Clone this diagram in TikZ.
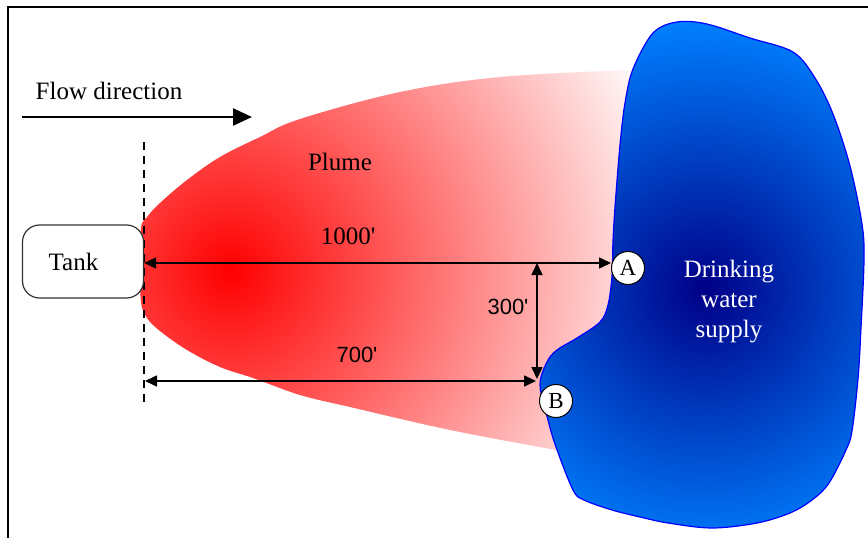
\documentclass[tikz,border=0pt]{standalone}
\usepackage{fontspec}
\setmainfont{Liberation Serif}
\newfontfamily\dimfont{Liberation Sans}
\usetikzlibrary{arrows.meta}

% outline of the water supply
\newcommand{\lakeoutline}{plot[smooth cycle, tension=0.55] coordinates {
  (653,33) (677,22) (707,24) (750,38) (793,52) (815,78) (833,114) (850,166)
  (862,224) (864,260) (861,328) (858,379) (852,431) (846,450) (829,483)
  (812,500) (790,513) (757,523) (712,528) (668,523) (640,517) (612,510)
  (584,500) (573,490) (556,447) (548,420) (540,385) (547,362) (557,350)
  (577,338) (600,322) (608,305) (612,276) (613,241) (615,207) (620,145)
  (625,103) (633,69)}}

\begin{document}
\begin{tikzpicture}[x=1pt, y=-1pt,
  txt/.style={font=\fontsize{25}{30}\selectfont, inner sep=0pt},
  dimtxt/.style={font=\dimfont\fontsize{22}{26}\selectfont, inner sep=0pt},
  dimline/.style={line width=1.6pt, {Triangle[length=12pt,width=11pt]}-{Triangle[length=12pt,width=11pt]}},
  tankbox/.style={draw=black!80, line width=1.2pt, rounded corners=17pt,
    minimum width=121pt, minimum height=73pt, fill=white, txt},
  pointmark/.style={circle, draw, line width=1pt, fill=white, minimum size=33pt,
    inner sep=0pt, font=\fontsize{23}{26}\selectfont}]

\useasboundingbox (0,0) rectangle (868,538);

%\draw[help lines, step=50] (0,0) grid (868,538);

% frame
\draw[line width=2.5pt] (868,7) -- (8,7) -- (8,538);

% plume, red at the source fading out downstream
\begin{scope}
  \clip plot[smooth, tension=0.6] coordinates {(556,450) (450,430) (350,407)
          (300,395) (253,378) (220,367) (187,350) (160,331) (147,318)
          (141,302) (140,265) (141,228) (147,217) (160,203) (187,180)
          (220,157) (260,137) (300,119) (400,92) (500,77) (630,70)}
        -- (650,70) -- (650,452) -- cycle;
  \shade[inner color=red, outer color=white] (230,270) circle[radius=460pt];
\end{scope}

% drinking water supply
\begin{scope}
  \clip \lakeoutline;
  \shade[inner color={rgb,255:red,0;green,0;blue,135},
         outer color={rgb,255:red,0;green,128;blue,255}] (705,290) circle[radius=270pt];
\end{scope}
\draw[blue, line width=1.2pt] \lakeoutline;

% flow direction
\node[txt] (flow) at (109,91) {Flow direction};
\coordinate (fs) at (22,117);
\coordinate (fe) at (252,117);
\draw[line width=2.5pt, -{Triangle[length=19pt,width=17pt]}] (fs) -- (fe);

% source line
\coordinate (dtop) at (144,142);
\coordinate (dbot) at (144,405);
\draw[line width=1.5pt, dash pattern=on 8pt off 6pt] (dtop) -- (dbot);

\node[tankbox] (tank) at (83,261.5) {Tank\kern19pt};

\node[pointmark] (A) at (628,268) {A};
\node[pointmark] (B) at (556,401) {B};

% distances
\coordinate (a1) at (tank.east |- 0,263);
\coordinate (a2) at (A.west |- 0,263);
\draw[dimline] (a1) -- (a2);
\node[txt] (l1000) at (348,236) {1000\textquotesingle};

\coordinate (b1) at (145,381);
\coordinate (b2) at (536,381);
\draw[dimline] (b1) -- (b2);
\node[dimtxt] (l700) at (357,355) {700\textquotesingle};

\coordinate (c1) at (537,263);
\coordinate (c2) at (537,379);
\draw[dimline] (c1) -- (c2);
\node[dimtxt] (l300) at (508,307) {300\textquotesingle};

\node[txt] (plume) at (340,162) {Plume};
\node[txt, white, align=center] (supply) at (729,302) {Drinking\\water\\supply};

\end{tikzpicture}
\end{document}
